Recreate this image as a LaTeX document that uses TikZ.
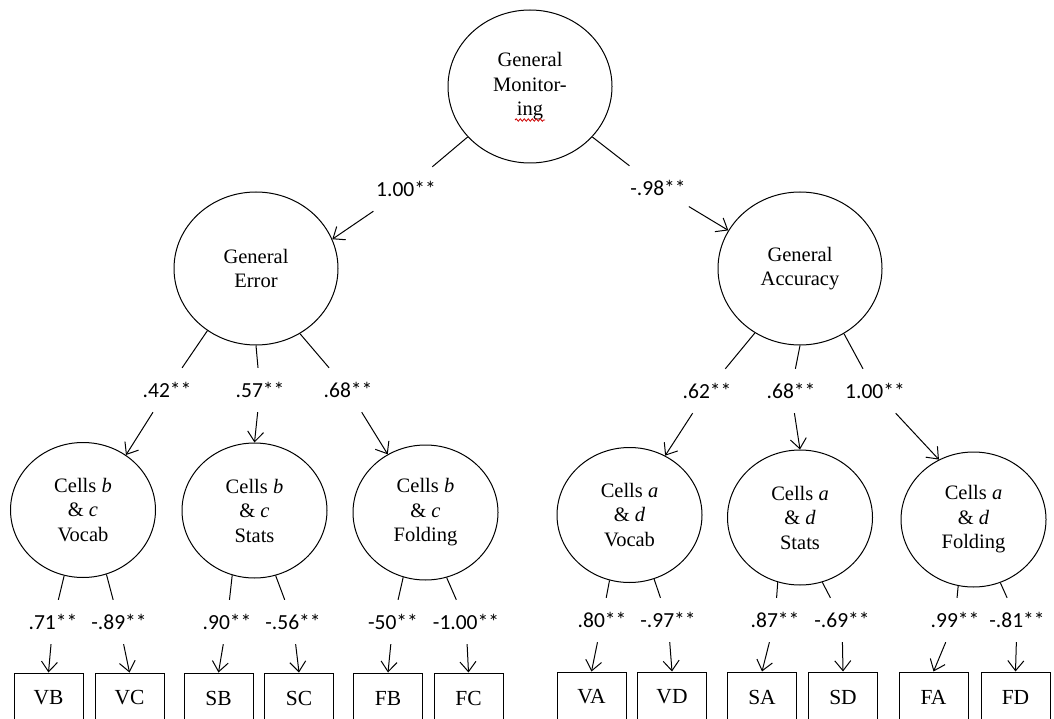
\documentclass[tikz,border=0pt]{standalone}
\usepackage{fontspec}
\setmainfont{Liberation Serif}
\newfontfamily\labfont{Carlito}
\usetikzlibrary{shapes.geometric,arrows.meta,decorations.pathmorphing}

\begin{document}
\begin{tikzpicture}[x=1pt,y=-1pt]
\tikzstyle{every node}+=[inner sep=0pt]
\tikzstyle{factor}=[draw, ellipse, line width=1pt, align=center, minimum width=164, minimum height=153, font=\fontsize{20.5}{24.5}\selectfont]
\tikzstyle{subfactor}=[factor, minimum width=145, minimum height=135]
\tikzstyle{indicator}=[draw, rectangle, line width=1pt, minimum width=69, minimum height=50, font=\fontsize{21.5}{24}\selectfont]
\tikzstyle{coef}=[minimum height=44, inner xsep=3pt, font=\labfont\fontsize{21.5}{24}\selectfont]
\tikzstyle{stub}=[line width=1pt]
\tikzstyle{load}=[line width=1pt, -{Straight Barb[length=10pt,width=16pt]}]
\useasboundingbox (0,0) rectangle (1054,719);
% latent factors
\node [factor] (gm) at (530,86.5) {General\\Monitor-\\ing};
\draw [red!80!black, line width=0.8pt, decorate, decoration={snake, amplitude=1.2pt, segment length=4pt}] (515,120) -- (545,120);
\node [factor] (ge) at (256,268.5) {General\\Error};
\node [factor] (ga) at (800,268.5) {General\\Accuracy};
\node [subfactor] (cbv) at (83,510) {Cells \textit{b}\\\& \textit{c}\\Vocab};
\node [subfactor] (cbs) at (254.5,510.5) {Cells \textit{b}\\\& \textit{c}\\Stats};
\node [subfactor] (cbf) at (425.5,512.5) {Cells \textit{b}\\\& \textit{c}\\Folding};
\node [subfactor] (cav) at (629.5,515) {Cells \textit{a}\\\& \textit{d}\\Vocab};
\node [subfactor] (cas) at (800,517.5) {Cells \textit{a}\\\& \textit{d}\\Stats};
\node [subfactor] (caf) at (973.5,519.5) {Cells \textit{a}\\\& \textit{d}\\Folding};
% observed indicators
\node [indicator] (vb) at (48.5,698) {VB};
\node [indicator] (vc) at (129.5,698) {VC};
\node [indicator] (sb) at (218.5,698) {SB};
\node [indicator] (sc) at (299,698) {SC};
\node [indicator] (fb) at (388,698) {FB};
\node [indicator] (fc) at (468.5,698) {FC};
\node [indicator] (va) at (591.5,697) {VA};
\node [indicator] (vd) at (672,697) {VD};
\node [indicator] (sa) at (762,697) {SA};
\node [indicator] (sd) at (843,697) {SD};
\node [indicator] (fa) at (933.5,697) {FA};
\node [indicator] (fd) at (1015.5,697) {FD};
% loadings, first order
\node [coef] (gmge) at (406,189) {1.00**};
\node [coef] (gmga) at (658,188) {-.98**};
\draw [stub] (gm.219) -- (gmge);
\draw [load] (gmge) -- (ge.21);
\draw [stub] (gm.321) -- (gmga);
\draw [load] (gmga) -- (ga.152);
% loadings, second order
\node [coef] (gecbv) at (167,390) {.42**};
\node [coef] (gecbs) at (260,390) {.57**};
\node [coef] (gecbf) at (348,390) {.68**};
\node [coef] (gacav) at (707,391) {.62**};
\node [coef] (gacas) at (791,391) {.68**};
\node [coef] (gacaf) at (875,391) {1.00**};
\draw [stub] (ge.232) -- (gecbv);
\draw [load] (gecbv) -- (cbv.52);
\draw [stub] (ge.270) -- (gecbs);
\draw [load] (gecbs) -- (cbs.north);
\draw [stub] (ge.304) -- (gecbf);
\draw [load] (gecbf) -- (cbf.123);
\draw [stub] (ga.235) -- (gacav);
\draw [load] (gacav) -- (cav.59);
\draw [stub] (ga.270) -- (gacas);
\draw [load] (gacas) -- (cas.north);
\draw [stub] (ga.304) -- (gacaf);
\draw [load] (gacaf) -- (caf.120);
% loadings, indicators
\node [coef] (cbvvb) at (53,622) {.71**};
\node [coef] (cbvvc) at (119,622) {-.89**};
\node [coef] (cbssb) at (227,622) {.90**};
\node [coef] (cbssc) at (293,622) {-.56**};
\node [coef] (cbffb) at (393,622) {-50**};
\node [coef] (cbffc) at (466,622) {-1.00**};
\node [coef] (cavva) at (602,620) {.80**};
\node [coef] (cavvd) at (668,620) {-.97**};
\node [coef] (cassa) at (775,620) {.87**};
\node [coef] (cassd) at (842,620) {-.69**};
\node [coef] (caffa) at (955,620) {.99**};
\node [coef] (caffd) at (1017,620) {-.81**};
\draw [stub] (cbv.254) -- (cbvvb);
\draw [load] (cbvvb) -- (vb.north);
\draw [stub] (cbv.290) -- (cbvvc);
\draw [load] (cbvvc) -- (vc.north);
\draw [stub] (cbs.251) -- (cbssb);
\draw [load] (cbssb) -- (sb.north);
\draw [stub] (cbs.288) -- (cbssc);
\draw [load] (cbssc) -- (sc.north);
\draw [stub] (cbf.251) -- (cbffb);
\draw [load] (cbffb) -- (fb.north);
\draw [stub] (cbf.288) -- (cbffc);
\draw [load] (cbffc) -- (fc.north);
\draw [stub] (cav.253) -- (cavva);
\draw [load] (cavva) -- (va.north);
\draw [stub] (cav.291) -- (cavvd);
\draw [load] (cavvd) -- (vd.north);
\draw [stub] (cas.251) -- (cassa);
\draw [load] (cassa) -- (sa.north);
\draw [stub] (cas.289) -- (cassd);
\draw [load] (cassd) -- (sd.north);
\draw [stub] (caf.257) -- (caffa);
\draw [load] (caffa) -- (fa.north);
\draw [stub] (caf.293) -- (caffd);
\draw [load] (caffd) -- (fd.north);
\end{tikzpicture}
\end{document}
